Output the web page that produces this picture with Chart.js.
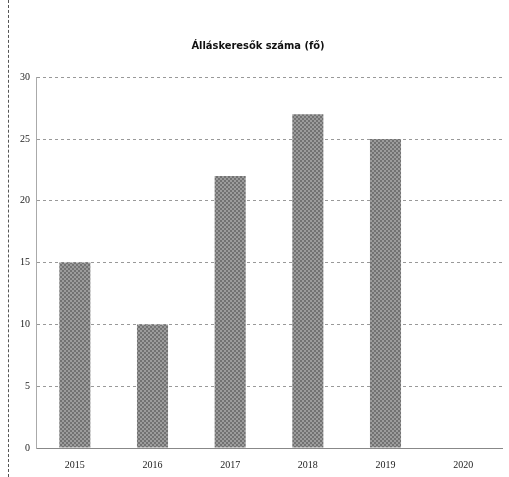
<!DOCTYPE html>
<html>
<head>
<meta charset="utf-8">
<script src="https://cdn.jsdelivr.net/npm/chart.js@4"></script>
<style>
  html, body { margin: 0; padding: 0; background: #fff; }
  #wrap { position: relative; width: 509px; height: 477px; }
  #wrap:before { content: ''; position: absolute; left: 8px; top: 0; bottom: 0; border-left: 1px dashed #555; }
</style>
</head>
<body>
<div id="wrap"><canvas id="chart" width="509" height="477"></canvas></div>
<script>
// Job seekers per year
const years = ['2015', '2016', '2017', '2018', '2019', '2020'];
const seekers = [15, 10, 22, 27, 25, 0];
const chartTitle = 'Álláskeresők száma (fő)';

// Grey hatched fill like the scanned original
function hatchPattern() {
    const c = document.createElement('canvas');
    c.width = 4; c.height = 4;
    const g = c.getContext('2d');
    g.fillStyle = '#9c9c9c';
    g.fillRect(0, 0, 4, 4);
    g.fillStyle = '#727272';
    g.fillRect(0, 0, 2, 2);
    g.fillRect(2, 2, 2, 2);
    return g.createPattern(c, 'repeat');
}

const ctx = document.getElementById('chart').getContext('2d');
new Chart(ctx, {
    type: 'bar',
    data: {
        labels: years,
        datasets: [{
            data: seekers,
            backgroundColor: hatchPattern(),
            borderWidth: 0,
            barPercentage: 0.4,
            categoryPercentage: 1
        }]
    },
    options: {
        responsive: false,
        animation: false,
        layout: { padding: { left: 14, right: 7, top: 40, bottom: 3 } },
        plugins: {
            legend: { display: false },
            tooltip: { enabled: false },
            title: {
                display: true,
                text: chartTitle,
                color: '#111',
                font: { family: 'DejaVu Sans Condensed', size: 11, weight: 'bold' },
                padding: { top: 0, bottom: 24 }
            }
        },
        scales: {
            x: {
                grid: { display: false },
                border: { color: '#888', dash: [3, 3] },
                ticks: { color: '#222', padding: 3, font: { family: 'Liberation Serif', size: 10 } }
            },
            y: {
                min: 0,
                max: 30,
                ticks: { stepSize: 5, color: '#222', padding: 6, font: { family: 'Liberation Serif', size: 10 } },
                grid: { color: '#999', drawTicks: false },
                border: { color: '#aaa', dash: [3, 3] }
            }
        }
    }
});
</script>
</body>
</html>
